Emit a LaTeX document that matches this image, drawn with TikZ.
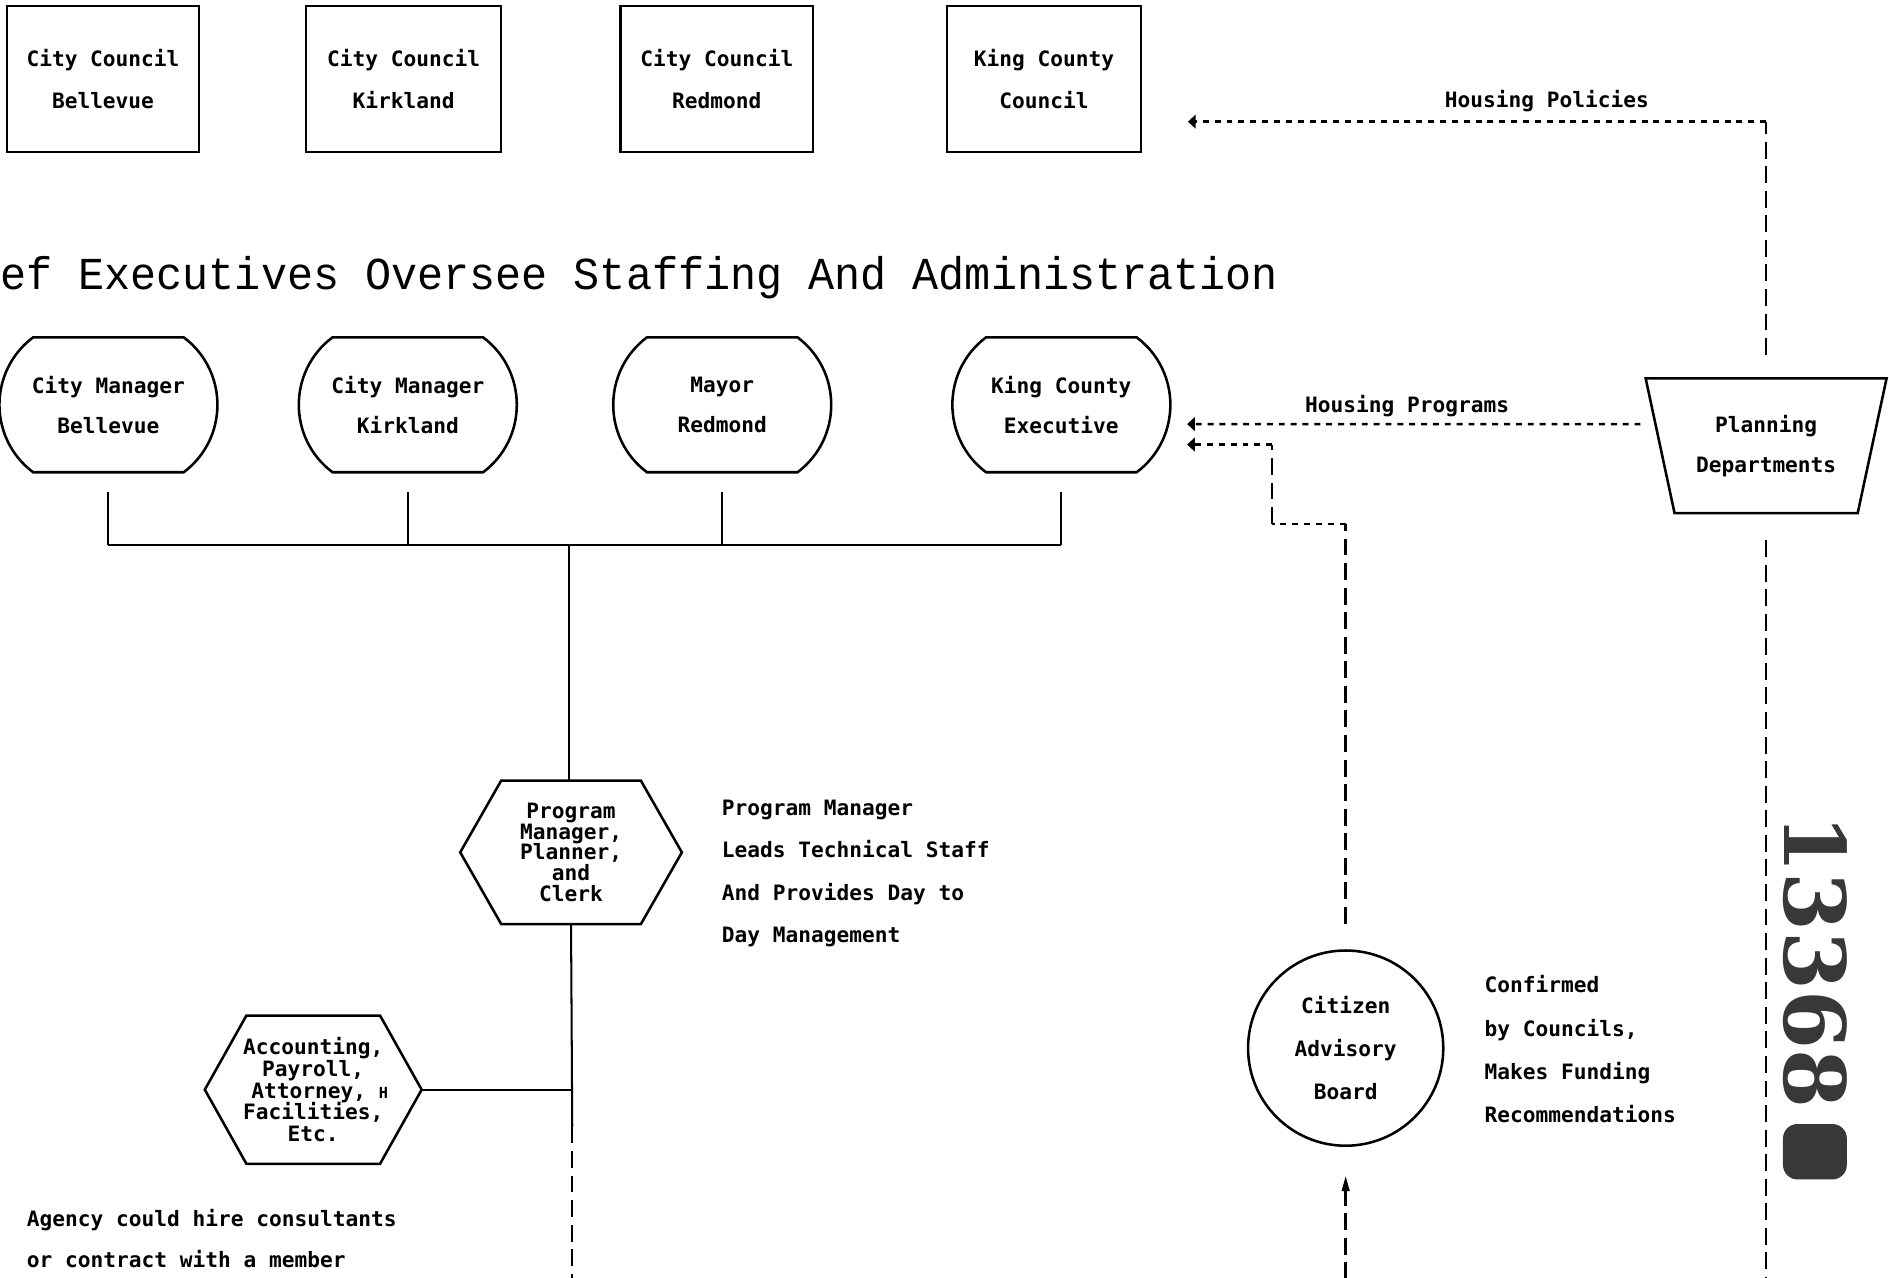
\documentclass[tikz,border=0pt]{standalone}
\usepackage{graphicx}
\usepackage{fontspec}
\newfontfamily\dmfont{DejaVu Sans Mono}
\newfontfamily\ttlfont{Liberation Mono}
\newfontfamily\stampfont{DejaVu Serif}
\usetikzlibrary{arrows.meta}
\definecolor{stampcol}{gray}{0.22}
\begin{document}
\begin{tikzpicture}[x=0.025cm,y=-0.025cm,
  txt/.style={font={\dmfont\bfseries\fontsize{12.5pt}{#1}\selectfont}},
  outline/.style={line width=1.5pt, line join=miter},
  conn/.style={line width=1.2pt},
  vdash/.style={line width=1.4pt, dash pattern=on 10pt off 4.5pt},
  hdash/.style={line width=1.4pt, dash pattern=on 3.5pt off 3.5pt},
  larrow/.style={-{Triangle[length=4.5pt,width=8pt]}},
  uarrow/.style={-{Triangle[length=9pt,width=4.5pt]}},
  cbox/.style={draw, outline, minimum height=3.025cm, inner sep=0pt, align=center, txt=24.9pt},
  exbox/.style={inner sep=0pt, minimum width=4.525cm, minimum height=2.8cm, align=center, txt=23.5pt},
  hexbox/.style={inner sep=0pt, align=center},
  note/.style={inner sep=0pt, align=left, anchor=west, txt=#1},
  lab/.style={inner sep=0pt, txt=15pt}]
\useasboundingbox (0,0) rectangle (1568,1060);
\fill[white] (0,0) rectangle (1568,1060);

% councils
\node[cbox, minimum width=3.975cm] (cc1) at (85.5,65.5) {City Council\\Bellevue};
\node[cbox, minimum width=4.05cm] (cc2) at (335,65.5) {City Council\\Kirkland};
\node[cbox, minimum width=4.0cm] (cc3) at (595,65.5) {City Council\\Redmond};
\node[cbox, minimum width=4.025cm] (cc4) at (866.5,65.5) {King County\\Council};

% title
\node[anchor=base west, inner sep=0pt, font={\ttlfont\fontsize{27pt}{30pt}\selectfont}] (title) at (0,240)
  {\scalebox{0.95}[1]{ef Executives Oversee Staffing And Administration}};

% chief executives
\node[exbox] (ex1) at (90,336) {City Manager\\Bellevue};
\node[exbox] (ex2) at (338.5,336) {City Manager\\Kirkland};
\node[exbox] (ex3) at (599.5,336) {Mayor\\Redmond};
\node[exbox] (ex4) at (881,336) {King County\\Executive};
\foreach \n in {ex1,ex2,ex3,ex4}{
  \draw[outline, shift={(\n.center)}] (-62.5,-56) -- (62.5,-56)
    .. controls (99.8,-28) and (99.8,28) .. (62.5,56) -- (-62.5,56)
    .. controls (-99.8,28) and (-99.8,-28) .. cycle;
}

% program manager hexagon
\node[hexbox, minimum width=4.6cm, minimum height=2.975cm, txt=12.3pt] (pm) at (474,707.5)
  {Program\\Manager,\\Planner,\\and\\Clerk};
\draw[outline, shift={(pm.center)}] (-58,-59.5) -- (58,-59.5) -- (92,0) -- (58,59.5) -- (-58,59.5) -- (-92,0) -- cycle;

% accounting hexagon
\node[hexbox, minimum width=4.5cm, minimum height=3.075cm, txt=12.8pt] (ac) at (260,904.5)
  {Accounting,\\Payroll,\\\ Attorney, {\fontsize{9pt}{9pt}\selectfont H}\\Facilities,\\Etc.};
\draw[outline, shift={(ac.center)}] (-55.5,-61.5) -- (55.5,-61.5) -- (90,0) -- (55.5,61.5) -- (-55.5,61.5) -- (-90,0) -- cycle;

% bracket
\coordinate (bus) at (472,452);
\foreach \n in {ex1,ex2,ex3,ex4}{
  \draw[conn, shorten <=0.4cm] (\n.south) -- (\n.south |- bus);
}
\draw[conn] (ex1.south |- bus) -- (ex4.south |- bus);
\draw[conn] (bus) -- (bus |- pm.north);

% stem below program manager
\coordinate (stemmid) at (475,935);
\coordinate (stembot) at (475,1062);
\draw[conn] (pm.south) -- (stemmid);
\draw[vdash] (stemmid) -- (stembot);
\draw[conn] (ac.east) -- (ac.east -| stemmid);

% notes
\node[note=24.9pt] (pmnote) at (599,725) {Program Manager\\Leads Technical Staff\\And Provides Day to\\Day Management};
\node[note=24.2pt] (agency) at (22,1028) {Agency could hire consultants\\or contract with a member};
\node[note=25.6pt] (cabnote) at (1232,871) {Confirmed\\by Councils,\\Makes Funding\\Recommendations};

% planning departments
\node[inner sep=0pt, minimum width=5cm, minimum height=2.8cm, align=center, txt=23.5pt] (pd) at (1466,370) {Planning\\Departments};
\draw[outline, shift={(pd.center)}] (-100,-56) -- (100,-56) -- (76,56) -- (-76,56) -- cycle;

% housing policies
\coordinate (hpc) at (1466,101);
\draw[vdash, shorten <=0.475cm] (pd.north) -- (hpc);
\draw[hdash, larrow, shorten >=0.95cm] (hpc) -- (hpc -| cc4.east);
\node[lab] (hplab) at (1284,84) {Housing Policies};

% housing programs
\draw[hdash, larrow, shorten <=0.1cm, shorten >=0.34cm] ([yshift=12.8pt]pd.west) -- ([yshift=-11.4pt]ex4.east);
\node[lab] (hglab) at (1168,337) {Housing Programs};

% citizen advisory board
\node[draw, outline, circle, minimum size=4.05cm, inner sep=0pt, align=center, txt=25.6pt] (cab) at (1117,870) {Citizen\\Advisory\\Board};
\coordinate (ca1) at (1117,435);
\coordinate (ca2) at (1056,435);
\coordinate (ca3) at (1056,369);
\draw[vdash, shorten <=0.525cm] (cab.north) -- (ca1);
\draw[hdash] (ca1) -- (ca2);
\draw[vdash] (ca2) -- (ca3);
\draw[hdash, larrow, shorten >=0.34cm] (ca3) -- (ca3 -| ex4.east);
\coordinate (cabin) at (1117,1062);
\draw[vdash, uarrow, shorten >=0.6cm] (cabin) -- (cab.south);

% planning down line
\coordinate (pdbot) at (1468,1062);
\draw[vdash, shorten <=0.55cm] (pd.south) -- (pd.south |- pdbot);

% stamp
\node[rotate=-90, inner sep=0pt, text=stampcol, font={\stampfont\bfseries\fontsize{50pt}{50pt}\selectfont}] (stamp) at (1507,798) {13368};
\fill[stampcol, rounded corners=0.3cm] (1480,933) rectangle (1533,979);
\end{tikzpicture}
\end{document}
